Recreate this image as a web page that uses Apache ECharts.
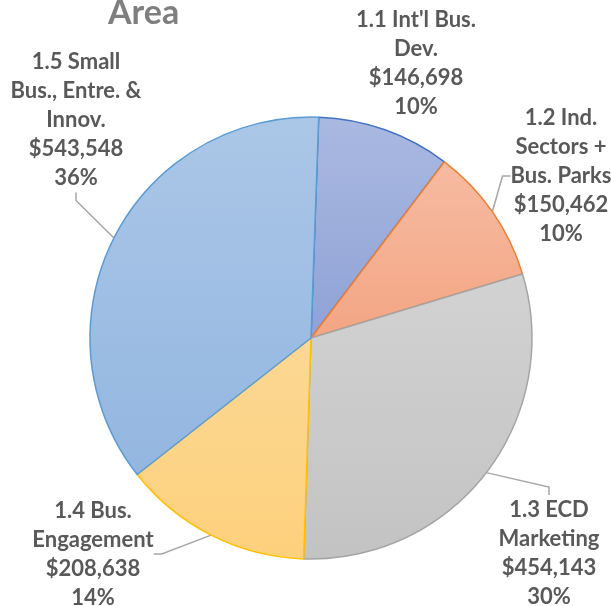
<!DOCTYPE html>
<html>
<head>
<meta charset="utf-8">
<script src="https://cdn.jsdelivr.net/npm/echarts@6/dist/echarts.min.js"></script>
<style>
  html, body { margin: 0; padding: 0; background: #fff; }
  #chart { width: 611px; height: 606px; }
</style>
</head>
<body>
<div id="chart"></div>
<script>
// slice names (line breaks as shown in the picture)
var categories = [
  "1.1 Int'l Bus.\nDev.",
  '1.2 Ind.\nSectors +\nBus. Parks',
  '1.3 ECD\nMarketing',
  '1.4 Bus.\nEngagement',
  '1.5 Small\nBus., Entre. &\nInnov.'
]
var amounts = [146698, 150462, 454143, 208638, 543548]

// fill gradient (top, bottom) and border colour of each slice
var fillTop = ['#aab9e1', '#f6bba2', '#d2d2d2', '#fbd894', '#abc7e7']
var fillBottom = ['#8fa2d6', '#f3a583', '#c3c3c3', '#fdd07c', '#93b6e0']
var borders = ['#4472c4', '#ed7d31', '#a5a5a5', '#ffc000', '#5b9bd5']

// where each data label sits (centre of the text block)
var labelPos = [[416, 63], [561, 176], [549, 553], [93, 554], [76, 120]]

var chart = echarts.init(document.getElementById('chart'))

var pieData = categories.map(function (name, i) {
  return {
    name: name,
    value: amounts[i],
    itemStyle: {
      color: new echarts.graphic.LinearGradient(0, 0, 0, 1, [
        { offset: 0, color: fillTop[i] },
        { offset: 1, color: fillBottom[i] }
      ]),
      borderColor: borders[i],
      borderWidth: 1.5
    },
    labelLine: { show: i !== 0 }
  }
})

chart.setOption({
  animation: false,
  title: {
    text: 'Area',
    left: 103,
    top: -9,
    textStyle: {
      fontFamily: 'Lato',
      fontSize: 34,
      fontWeight: 'bold',
      color: '#7f7f7f'
    }
  },
  series: [{
    type: 'pie',
    center: [311, 338],
    radius: 221,
    startAngle: 88,
    clockwise: true,
    data: pieData,
    label: {
      show: true,
      position: 'outside',
      overflow: 'none',
      fontFamily: 'Lato',
      fontSize: 22,
      fontWeight: 'bold',
      color: '#595959',
      lineHeight: 29,
      align: 'center',
      formatter: function (p) {
        return p.name + '\n$' + p.value.toLocaleString('en-US') + '\n' + Math.round(p.percent) + '%'
      }
    },
    labelLine: {
      show: true,
      length: 8,
      length2: 8,
      lineStyle: { color: '#a6a6a6', width: 1.5 }
    },
    labelLayout: function (params) {
      var pos = labelPos[params.dataIndex]
      return {
        x: pos[0],
        y: pos[1],
        align: 'center',
        verticalAlign: 'middle'
      }
    },
    emphasis: { disabled: true }
  }]
})
</script>
</body>
</html>
